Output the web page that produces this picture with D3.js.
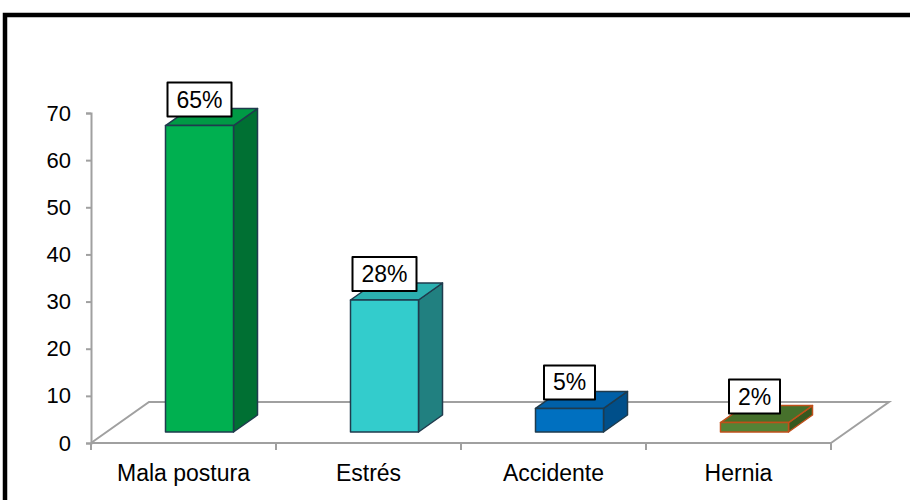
<!DOCTYPE html>
<html>
<head>
<meta charset="utf-8">
<title>Causas</title>
<script src="https://cdn.jsdelivr.net/npm/d3@7"></script>
<style>
body { margin: 0; background: #fff; }
text { font-family: "Liberation Sans", Arial, sans-serif; }
</style>
</head>
<body>
<script>
var categories = ["Mala postura", "Estrés", "Accidente", "Hernia"];
var values = [65, 28, 5, 2];
var labels = ["65%", "28%", "5%", "2%"];
var yTicks = [0, 10, 20, 30, 40, 50, 60, 70];

var fronts = ["#00b050", "#33cccc", "#0070c0", "#548235"];
var sides = ["#007033", "#218080", "#004f8a", "#38591f"];
var tops = ["#009a45", "#2bb0b0", "#0060a8", "#46702b"];
var strokes = ["#1f3b4d", "#1f3b4d", "#1f3b4d", "#c0501a"];

var w = 910, h = 500;
var svg = d3.select("body").append("svg").attr("width", w).attr("height", h);

// outer frame
svg.append("rect").attr("x", 5).attr("y", 15).attr("width", 920).attr("height", 520)
  .attr("fill", "none").attr("stroke", "#000").attr("stroke-width", 4.5);

var y = d3.scaleLinear().domain([0, 70]).range([443, 113]);
var x = d3.scaleBand().domain(categories).range([91, 831]);

// floor depth and bar depth
var fdx = 58, fdy = -41;
var bdx = 24, bdy = -17;
var shiftX = 16, shiftY = -11;
var barW = 68;

var grey = "#a0a0a0";
var floor = svg.append("g").attr("fill", "none").attr("stroke", grey).attr("stroke-width", 2);
floor.append("polyline")
  .attr("points", [[x.range()[0], y(0)], [x.range()[0] + fdx, y(0) + fdy], [x.range()[1] + fdx, y(0) + fdy], [x.range()[1], y(0)]].join(" "));

// y axis
var yAxis = svg.append("g").attr("transform", "translate(91,0)")
  .call(d3.axisLeft(y).tickValues(yTicks).tickSize(5).tickPadding(15));
yAxis.selectAll("path, line").attr("stroke", grey).attr("stroke-width", 2);
yAxis.selectAll("text").attr("font-size", 22).attr("fill", "#000")
  .style("font-family", "Liberation Sans, Arial, sans-serif");

// x axis line and boundary ticks
svg.append("line").attr("x1", x.range()[0]).attr("x2", x.range()[1])
  .attr("y1", y(0)).attr("y2", y(0)).attr("stroke", grey).attr("stroke-width", 2);
var bounds = categories.map(function(c) { return x(c); }).concat([x.range()[1]]);
svg.selectAll(".xt").data(bounds).enter().append("line")
  .attr("x1", function(d) { return d; }).attr("x2", function(d) { return d; })
  .attr("y1", y(0)).attr("y2", y(0) + 7).attr("stroke", grey).attr("stroke-width", 2);
svg.selectAll(".xl").data(categories).enter().append("text")
  .attr("x", function(d) { return x(d) + x.bandwidth() / 2; })
  .attr("y", 481).attr("text-anchor", "middle").attr("font-size", 23)
  .text(function(d) { return d; });

// bars
var bars = svg.selectAll(".bar").data(values).enter().append("g")
  .attr("stroke-linejoin", "round");
bars.each(function(v, i) {
  var g = d3.select(this);
  var x0 = x(categories[i]) + (x.bandwidth() - barW) / 2 + shiftX;
  var x1 = x0 + barW;
  var yb = y(0) + shiftY;
  var yt = y(v) + shiftY;
  var st = strokes[i];
  g.append("polygon")
    .attr("points", [[x1, yb], [x1 + bdx, yb + bdy], [x1 + bdx, yt + bdy], [x1, yt]].join(" "))
    .attr("fill", sides[i]).attr("stroke", st).attr("stroke-width", 1.5);
  g.append("polygon")
    .attr("points", [[x0, yt], [x0 + bdx, yt + bdy], [x1 + bdx, yt + bdy], [x1, yt]].join(" "))
    .attr("fill", tops[i]).attr("stroke", st).attr("stroke-width", 1.5);
  g.append("rect").attr("x", x0).attr("y", yt).attr("width", barW).attr("height", yb - yt)
    .attr("fill", fronts[i]).attr("stroke", st).attr("stroke-width", 1.5);

  // data label
  var cx = (x0 + x1) / 2, cy = yt - 26;
  var bw = labels[i].length > 2 ? 64 : 51;
  g.append("rect").attr("x", cx - bw / 2).attr("y", cy - 17).attr("width", bw).attr("height", 34)
    .attr("fill", "#fff").attr("stroke", "#000").attr("stroke-width", 2);
  g.append("text").attr("x", cx).attr("y", cy + 8).attr("text-anchor", "middle")
    .attr("font-size", 23).attr("stroke", "none").text(labels[i]);
});
</script>
</body>
</html>
